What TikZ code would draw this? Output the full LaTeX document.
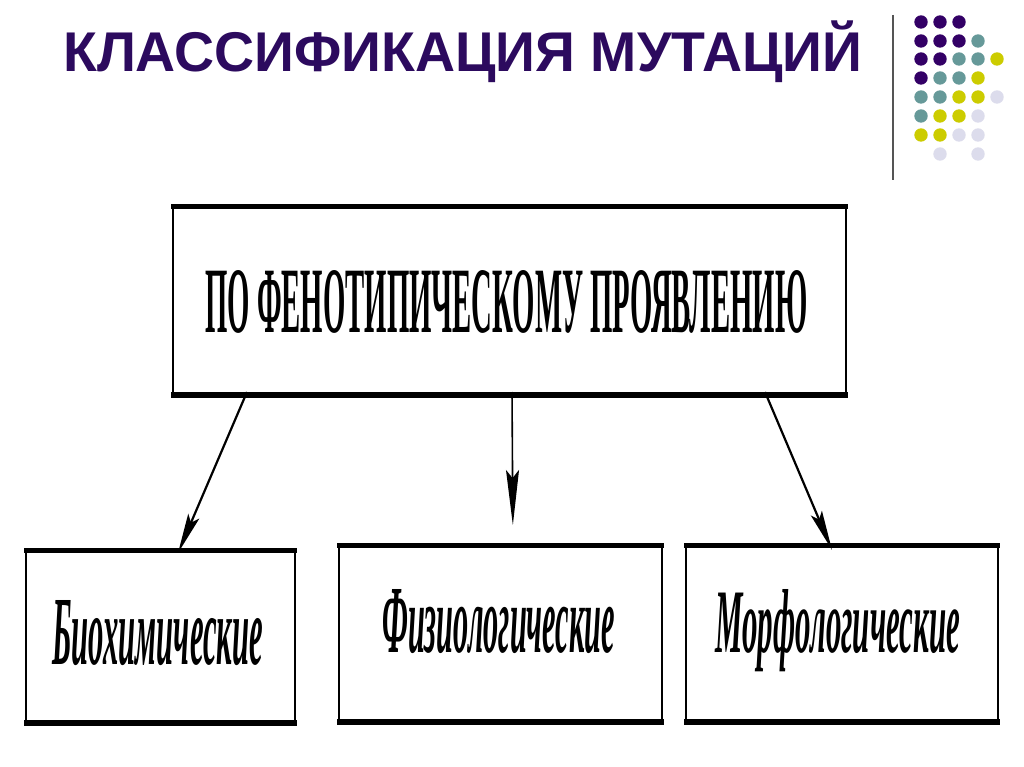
\documentclass[tikz,border=0pt]{standalone}
\usepackage{fontspec}
\usepackage{graphicx}
\setmainfont{Liberation Serif}
\newfontfamily\titlefont{Liberation Sans}
\usetikzlibrary{arrows.meta}
\definecolor{titlecol}{HTML}{2C0A5E}
\definecolor{dpurple}{HTML}{330066}
\definecolor{dteal}{HTML}{669999}
\definecolor{dyellow}{HTML}{CCCC00}
\definecolor{dlav}{HTML}{DCDCEC}
\definecolor{rulegray}{HTML}{555555}
\tikzset{
  box/.style={draw=black, line width=2pt, inner sep=0pt, anchor=north west},
  lbl/.style={inner sep=0pt, anchor=base west},
  conn/.style={line width=2.2pt, -{Stealth[length=40pt,width=12pt,inset=7pt]}},
  dot/.style={radius=6.7pt}
}
\begin{document}
\begin{tikzpicture}[x=1pt,y=-1pt]
\useasboundingbox[fill=white] (0,0) rectangle (1024,767);
% title
\node[lbl, text=titlecol] (title) at (63,72)
  {\resizebox{799pt}{\height}{\titlefont\bfseries\fontsize{56pt}{60pt}\selectfont КЛАССИФИКАЦИЯ МУТАЦИЙ}};
% decoration
\draw[rulegray, line width=2pt] (893,15) -- (893,180);
\foreach \c/\x/\y in {
  dpurple/921/22, dpurple/940/22, dpurple/959/22,
  dpurple/921/41, dpurple/940/41, dpurple/959/41, dteal/978/41,
  dpurple/921/59, dpurple/940/59, dteal/959/59, dteal/978/59, dyellow/997/59,
  dpurple/921/78, dteal/940/78, dteal/959/78, dyellow/978/78,
  dteal/921/97, dteal/940/97, dyellow/959/97, dyellow/978/97, dlav/997/97,
  dteal/921/116, dyellow/940/116, dyellow/959/116, dlav/978/116,
  dyellow/921/135, dyellow/940/135, dlav/959/135, dlav/978/135,
  dlav/940/154, dlav/978/154}
  \fill[\c] (\x,\y) circle[dot];
% boxes
\node[box, minimum width=673pt, minimum height=186pt] (top) at (172,207) {};
\node[box, minimum width=269pt, minimum height=171pt] (bio) at (25,550) {};
\node[box, minimum width=323pt, minimum height=175pt] (phys) at (338,545) {};
\node[box, minimum width=312pt, minimum height=175pt] (morph) at (685,545) {};
\foreach \n in {top,bio,phys,morph}{
  \draw[line width=5pt] ([xshift=-1pt]\n.north west) -- ([xshift=1pt]\n.north east);
  \draw[line width=6pt] ([xshift=-1pt]\n.south west) -- ([xshift=1pt]\n.south east);
}
% labels
\node[lbl] (toplbl) at (205,332)
  {\resizebox{602pt}{62pt}{\bfseries ПО ФЕНОТИПИЧЕСКОМУ ПРОЯВЛЕНИЮ}};
\node[lbl] (biolbl) at (52,664)
  {\resizebox{211pt}{64pt}{\bfseries\itshape Биохимические}};
\node[lbl] (physlbl) at (382,652)
  {\resizebox{233pt}{63pt}{\bfseries\itshape Физиологические}};
\node[lbl] (morphlbl) at (715,652)
  {\resizebox{245pt}{63pt}{\bfseries\itshape Морфологические}};
% connectors
\draw[conn] ([xshift=75pt,yshift=3pt]top.south west) -- ([xshift=153pt,yshift=-3pt]bio.north west);
\draw[conn, line width=1.6pt, -{Stealth[length=55pt,width=13pt,inset=8pt]}, shorten >=22pt] ([xshift=340pt,yshift=3pt]top.south west) -- ([xshift=175pt,yshift=-2pt]phys.north west);
\draw[conn] ([xshift=593pt,yshift=3pt]top.south west) -- ([xshift=147pt,yshift=-5pt]morph.north west);
\end{tikzpicture}
\end{document}
